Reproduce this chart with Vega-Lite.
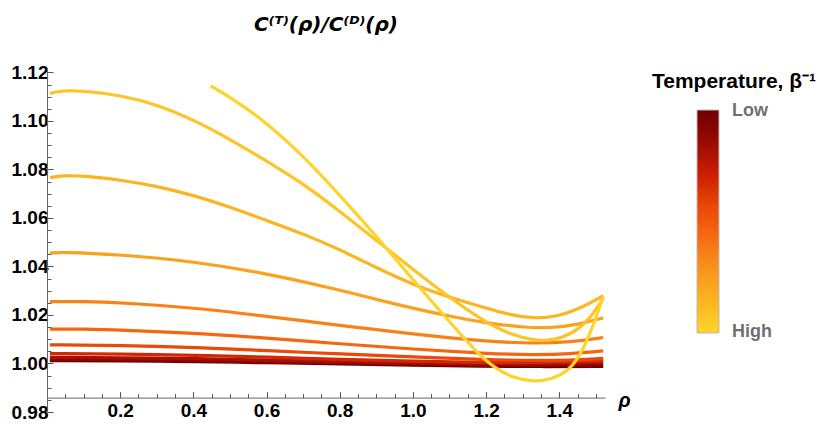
{
  "$schema": "https://vega.github.io/schema/vega-lite/v6.json",
  "width": 558,
  "height": 342,
  "autosize": "none",
  "padding": {"left": 47, "top": 70, "right": 225, "bottom": 17},
  "title": {
    "text": "C⁽ᵀ⁾(ρ)/C⁽ᴰ⁾(ρ)",
    "font": "DejaVu Sans",
    "fontSize": 20,
    "fontWeight": "bold",
    "fontStyle": "italic",
    "anchor": "middle",
    "offset": 28,
    "color": "black"
  },
  "data": {
    "values": [
      {"k": "c11", "T": 1.0, "rho": 0.008, "r": 1.0012},
      {"k": "c11", "T": 1.0, "rho": 0.2, "r": 1.0011},
      {"k": "c11", "T": 1.0, "rho": 0.412, "r": 1.0008},
      {"k": "c11", "T": 1.0, "rho": 0.6, "r": 1.0003},
      {"k": "c11", "T": 1.0, "rho": 0.805, "r": 0.9998},
      {"k": "c11", "T": 1.0, "rho": 1.0, "r": 0.9993},
      {"k": "c11", "T": 1.0, "rho": 1.188, "r": 0.9989},
      {"k": "c11", "T": 1.0, "rho": 1.35, "r": 0.9987},
      {"k": "c11", "T": 1.0, "rho": 1.52, "r": 0.9988},
      {"k": "c10", "T": 0.91, "rho": 0.008, "r": 1.0017},
      {"k": "c10", "T": 0.91, "rho": 0.2, "r": 1.0016},
      {"k": "c10", "T": 0.91, "rho": 0.412, "r": 1.0012},
      {"k": "c10", "T": 0.91, "rho": 0.6, "r": 1.0007},
      {"k": "c10", "T": 0.91, "rho": 0.805, "r": 1.0002},
      {"k": "c10", "T": 0.91, "rho": 1.0, "r": 0.9997},
      {"k": "c10", "T": 0.91, "rho": 1.188, "r": 0.9993},
      {"k": "c10", "T": 0.91, "rho": 1.35, "r": 0.9992},
      {"k": "c10", "T": 0.91, "rho": 1.52, "r": 0.9994},
      {"k": "c9", "T": 0.82, "rho": 0.008, "r": 1.0025},
      {"k": "c9", "T": 0.82, "rho": 0.2, "r": 1.0024},
      {"k": "c9", "T": 0.82, "rho": 0.412, "r": 1.002},
      {"k": "c9", "T": 0.82, "rho": 0.6, "r": 1.0014},
      {"k": "c9", "T": 0.82, "rho": 0.805, "r": 1.0008},
      {"k": "c9", "T": 0.82, "rho": 1.0, "r": 1.0002},
      {"k": "c9", "T": 0.82, "rho": 1.188, "r": 0.9998},
      {"k": "c9", "T": 0.82, "rho": 1.35, "r": 0.9997},
      {"k": "c9", "T": 0.82, "rho": 1.52, "r": 1.0002},
      {"k": "c8", "T": 0.68, "rho": 0.008, "r": 1.0041},
      {"k": "c8", "T": 0.68, "rho": 0.2, "r": 1.0039},
      {"k": "c8", "T": 0.68, "rho": 0.412, "r": 1.0034},
      {"k": "c8", "T": 0.68, "rho": 0.6, "r": 1.0026},
      {"k": "c8", "T": 0.68, "rho": 0.805, "r": 1.0017},
      {"k": "c8", "T": 0.68, "rho": 1.0, "r": 1.0009},
      {"k": "c8", "T": 0.68, "rho": 1.188, "r": 1.0004},
      {"k": "c8", "T": 0.68, "rho": 1.35, "r": 1.0003},
      {"k": "c8", "T": 0.68, "rho": 1.52, "r": 1.0011},
      {"k": "c7", "T": 0.56, "rho": 0.008, "r": 1.0077},
      {"k": "c7", "T": 0.56, "rho": 0.2, "r": 1.0075},
      {"k": "c7", "T": 0.56, "rho": 0.412, "r": 1.0066},
      {"k": "c7", "T": 0.56, "rho": 0.6, "r": 1.0053},
      {"k": "c7", "T": 0.56, "rho": 0.805, "r": 1.0039},
      {"k": "c7", "T": 0.56, "rho": 1.0, "r": 1.0027},
      {"k": "c7", "T": 0.56, "rho": 1.188, "r": 1.0016},
      {"k": "c7", "T": 0.56, "rho": 1.35, "r": 1.0012},
      {"k": "c7", "T": 0.56, "rho": 1.45, "r": 1.0014},
      {"k": "c7", "T": 0.56, "rho": 1.52, "r": 1.0021},
      {"k": "c6", "T": 0.45, "rho": 0.008, "r": 1.0142},
      {"k": "c6", "T": 0.45, "rho": 0.1, "r": 1.0142},
      {"k": "c6", "T": 0.45, "rho": 0.2, "r": 1.0138},
      {"k": "c6", "T": 0.45, "rho": 0.4, "r": 1.0126},
      {"k": "c6", "T": 0.45, "rho": 0.6, "r": 1.0105},
      {"k": "c6", "T": 0.45, "rho": 0.8, "r": 1.0081},
      {"k": "c6", "T": 0.45, "rho": 1.0, "r": 1.0059},
      {"k": "c6", "T": 0.45, "rho": 1.2, "r": 1.0041},
      {"k": "c6", "T": 0.45, "rho": 1.33, "r": 1.0035},
      {"k": "c6", "T": 0.45, "rho": 1.43, "r": 1.0039},
      {"k": "c6", "T": 0.45, "rho": 1.52, "r": 1.0052},
      {"k": "c5", "T": 0.35, "rho": 0.008, "r": 1.0255},
      {"k": "c5", "T": 0.35, "rho": 0.1, "r": 1.0256},
      {"k": "c5", "T": 0.35, "rho": 0.2, "r": 1.0251},
      {"k": "c5", "T": 0.35, "rho": 0.4, "r": 1.023},
      {"k": "c5", "T": 0.35, "rho": 0.6, "r": 1.0195},
      {"k": "c5", "T": 0.35, "rho": 0.8, "r": 1.0157},
      {"k": "c5", "T": 0.35, "rho": 1.0, "r": 1.0121},
      {"k": "c5", "T": 0.35, "rho": 1.2, "r": 1.0091},
      {"k": "c5", "T": 0.35, "rho": 1.33, "r": 1.0082},
      {"k": "c5", "T": 0.35, "rho": 1.43, "r": 1.0088},
      {"k": "c5", "T": 0.35, "rho": 1.52, "r": 1.0107},
      {"k": "c4", "T": 0.23, "rho": 0.008, "r": 1.0455},
      {"k": "c4", "T": 0.23, "rho": 0.04, "r": 1.046},
      {"k": "c4", "T": 0.23, "rho": 0.2, "r": 1.0449},
      {"k": "c4", "T": 0.23, "rho": 0.4, "r": 1.0421},
      {"k": "c4", "T": 0.23, "rho": 0.6, "r": 1.0372},
      {"k": "c4", "T": 0.23, "rho": 0.8, "r": 1.0303},
      {"k": "c4", "T": 0.23, "rho": 0.9, "r": 1.0264},
      {"k": "c4", "T": 0.23, "rho": 1.0, "r": 1.0228},
      {"k": "c4", "T": 0.23, "rho": 1.1, "r": 1.0195},
      {"k": "c4", "T": 0.23, "rho": 1.2, "r": 1.0167},
      {"k": "c4", "T": 0.23, "rho": 1.3, "r": 1.0149},
      {"k": "c4", "T": 0.23, "rho": 1.38, "r": 1.0146},
      {"k": "c4", "T": 0.23, "rho": 1.45, "r": 1.016},
      {"k": "c4", "T": 0.23, "rho": 1.52, "r": 1.0188},
      {"k": "c3", "T": 0.15, "rho": 0.008, "r": 1.0766},
      {"k": "c3", "T": 0.15, "rho": 0.04, "r": 1.0775},
      {"k": "c3", "T": 0.15, "rho": 0.1, "r": 1.0774},
      {"k": "c3", "T": 0.15, "rho": 0.2, "r": 1.0757},
      {"k": "c3", "T": 0.15, "rho": 0.3, "r": 1.0731},
      {"k": "c3", "T": 0.15, "rho": 0.4, "r": 1.0694},
      {"k": "c3", "T": 0.15, "rho": 0.5, "r": 1.0645},
      {"k": "c3", "T": 0.15, "rho": 0.6, "r": 1.059},
      {"k": "c3", "T": 0.15, "rho": 0.7, "r": 1.0535},
      {"k": "c3", "T": 0.15, "rho": 0.8, "r": 1.047},
      {"k": "c3", "T": 0.15, "rho": 0.9, "r": 1.0395},
      {"k": "c3", "T": 0.15, "rho": 1.0, "r": 1.0325},
      {"k": "c3", "T": 0.15, "rho": 1.1, "r": 1.0273},
      {"k": "c3", "T": 0.15, "rho": 1.2, "r": 1.0228},
      {"k": "c3", "T": 0.15, "rho": 1.27, "r": 1.0199},
      {"k": "c3", "T": 0.15, "rho": 1.33, "r": 1.0186},
      {"k": "c3", "T": 0.15, "rho": 1.39, "r": 1.0191},
      {"k": "c3", "T": 0.15, "rho": 1.465, "r": 1.0232},
      {"k": "c3", "T": 0.15, "rho": 1.52, "r": 1.028},
      {"k": "c2", "T": 0.08, "rho": 0.008, "r": 1.1113},
      {"k": "c2", "T": 0.08, "rho": 0.04, "r": 1.1126},
      {"k": "c2", "T": 0.08, "rho": 0.1, "r": 1.1124},
      {"k": "c2", "T": 0.08, "rho": 0.2, "r": 1.1106},
      {"k": "c2", "T": 0.08, "rho": 0.3, "r": 1.1068},
      {"k": "c2", "T": 0.08, "rho": 0.4, "r": 1.1005},
      {"k": "c2", "T": 0.08, "rho": 0.5, "r": 1.0925},
      {"k": "c2", "T": 0.08, "rho": 0.6, "r": 1.0835},
      {"k": "c2", "T": 0.08, "rho": 0.7, "r": 1.0742},
      {"k": "c2", "T": 0.08, "rho": 0.8, "r": 1.0628},
      {"k": "c2", "T": 0.08, "rho": 0.9, "r": 1.0508},
      {"k": "c2", "T": 0.08, "rho": 1.0, "r": 1.0388},
      {"k": "c2", "T": 0.08, "rho": 1.1, "r": 1.0272},
      {"k": "c2", "T": 0.08, "rho": 1.2, "r": 1.0167},
      {"k": "c2", "T": 0.08, "rho": 1.27, "r": 1.0118},
      {"k": "c2", "T": 0.08, "rho": 1.33, "r": 1.0095},
      {"k": "c2", "T": 0.08, "rho": 1.38, "r": 1.0094},
      {"k": "c2", "T": 0.08, "rho": 1.43, "r": 1.0118},
      {"k": "c2", "T": 0.08, "rho": 1.48, "r": 1.0175},
      {"k": "c2", "T": 0.08, "rho": 1.52, "r": 1.0268},
      {"k": "c1", "T": 0.0, "rho": 0.447, "r": 1.1145},
      {"k": "c1", "T": 0.0, "rho": 0.5, "r": 1.1098},
      {"k": "c1", "T": 0.0, "rho": 0.6, "r": 1.0995},
      {"k": "c1", "T": 0.0, "rho": 0.7, "r": 1.0855},
      {"k": "c1", "T": 0.0, "rho": 0.8, "r": 1.0695},
      {"k": "c1", "T": 0.0, "rho": 0.9, "r": 1.0525},
      {"k": "c1", "T": 0.0, "rho": 1.0, "r": 1.0345},
      {"k": "c1", "T": 0.0, "rho": 1.1, "r": 1.0172},
      {"k": "c1", "T": 0.0, "rho": 1.18, "r": 1.0035},
      {"k": "c1", "T": 0.0, "rho": 1.23, "r": 0.9975},
      {"k": "c1", "T": 0.0, "rho": 1.28, "r": 0.9938},
      {"k": "c1", "T": 0.0, "rho": 1.33, "r": 0.9924},
      {"k": "c1", "T": 0.0, "rho": 1.38, "r": 0.9935},
      {"k": "c1", "T": 0.0, "rho": 1.43, "r": 0.9973},
      {"k": "c1", "T": 0.0, "rho": 1.465, "r": 1.0055},
      {"k": "c1", "T": 0.0, "rho": 1.495, "r": 1.0165},
      {"k": "c1", "T": 0.0, "rho": 1.52, "r": 1.0275}
    ]
  },
  "mark": {"type": "line", "strokeWidth": 3.2, "interpolate": "basis", "clip": true},
  "encoding": {
    "x": {
      "field": "rho",
      "type": "quantitative",
      "scale": {"domain": [0, 1.525], "nice": false, "zero": false},
      "axis": {
        "title": "ρ",
        "titleFont": "Liberation Sans",
        "titleFontSize": 20,
        "titleFontStyle": "italic",
        "titleFontWeight": "bold",
        "titleColor": "black",
        "titleX": 571,
        "titleY": 9,
        "titleAlign": "left",
        "titleBaseline": "alphabetic",
        "offset": -14.4,
        "zindex": 1,
        "values": [0.05, 0.1, 0.15, 0.2, 0.25, 0.3, 0.35, 0.4, 0.45, 0.5, 0.55, 0.6, 0.65, 0.7, 0.75, 0.8, 0.85, 0.9, 0.95, 1.0, 1.05, 1.1, 1.15, 1.2, 1.25, 1.3, 1.35, 1.4, 1.45, 1.5],
        "labelExpr": "abs(datum.value * 5 - round(datum.value * 5)) < 0.001 ? format(datum.value, '.1f') : ''",
        "labelOverlap": false,
        "labelFont": "Liberation Sans",
        "labelFontSize": 19,
        "labelFontWeight": "bold",
        "labelColor": "black",
        "labelPadding": 10,
        "ticks": true,
        "tickWidth": 1,
        "tickSize": {"condition": {"test": "abs(datum.value * 5 - round(datum.value * 5)) < 0.001", "value": -6}, "value": -4},
        "tickColor": "#555",
        "domainColor": "#666",
        "grid": false
      }
    },
    "y": {
      "field": "r",
      "type": "quantitative",
      "scale": {"domain": [0.98, 1.121], "nice": false, "zero": false},
      "axis": {
        "title": null,
        "zindex": 1,
        "values": [0.98, 0.985, 0.99, 0.995, 1.0, 1.005, 1.01, 1.015, 1.02, 1.025, 1.03, 1.035, 1.04, 1.045, 1.05, 1.055, 1.06, 1.065, 1.07, 1.075, 1.08, 1.085, 1.09, 1.095, 1.1, 1.105, 1.11, 1.115, 1.12],
        "labelExpr": "abs(datum.value * 50 - round(datum.value * 50)) < 0.001 ? format(datum.value, '.2f') : ''",
        "labelOverlap": false,
        "labelFont": "Liberation Sans",
        "labelFontSize": 19,
        "labelFontWeight": "bold",
        "labelColor": "black",
        "labelPadding": 5,
        "ticks": true,
        "tickWidth": 1,
        "tickSize": {"condition": {"test": "abs(datum.value * 50 - round(datum.value * 50)) < 0.001", "value": -6}, "value": -4},
        "tickColor": "#555",
        "domainColor": "#666",
        "grid": false
      }
    },
    "color": {
      "field": "T",
      "type": "quantitative",
      "scale": {
        "domain": [0, 0.13, 0.28, 0.42, 0.55, 0.7, 0.85, 1],
        "range": ["#ffd42a", "#fcb823", "#f9961d", "#f66d12", "#eb4c0a", "#cf2000", "#9c0c00", "#6e0000"]
      },
      "legend": {
        "title": "Temperature, β⁻¹",
        "titleFont": "Liberation Sans",
        "titleFontSize": 21,
        "titleFontWeight": "bold",
        "titleColor": "black",
        "titleAnchor": "middle",
        "titlePadding": 18,
        "orient": "none",
        "legendX": 605,
        "legendY": 1,
        "direction": "vertical",
        "gradientLength": 223,
        "gradientThickness": 22,
        "gradientStrokeColor": "#bbb",
        "gradientStrokeWidth": 1,
        "values": [0.005, 0.995],
        "labelExpr": "datum.value < 0.5 ? 'High' : 'Low'",
        "labelFont": "Liberation Sans",
        "labelFontSize": 18,
        "labelFontWeight": "bold",
        "labelColor": "#707070",
        "labelBaseline": "middle",
        "labelOffset": 13
      }
    },
    "detail": {"field": "k"}
  },
  "config": {"view": {"stroke": null}}
}
